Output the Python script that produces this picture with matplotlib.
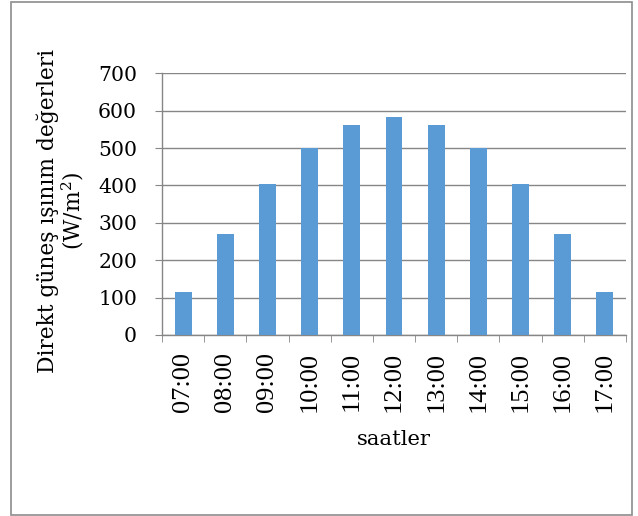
import matplotlib
matplotlib.use("Agg")
import matplotlib.pyplot as plt
from matplotlib.patches import Rectangle

# Hourly direct solar irradiance (W/m²)
hours = ["07:00", "08:00", "09:00", "10:00", "11:00", "12:00",
         "13:00", "14:00", "15:00", "16:00", "17:00"]
irradiance = [115, 270, 403, 501, 562, 582, 562, 501, 403, 270, 115]
y_ticks = [0, 100, 200, 300, 400, 500, 600, 700]

plt.rcParams["font.family"] = ["DejaVu Serif"]
plt.rcParams["mathtext.fontset"] = "dejavuserif"
FS = 14.7
FS_LABEL = 15.2
GRID = "#868686"

W, H = 638, 516
fig = plt.figure(figsize=(W / 100, H / 100), dpi=100)
fig.patch.set_facecolor("white")

# chart-area border
fig.patches.append(Rectangle((10.5 / W, 1.5 / H), (632 - 10.5) / W, (514 - 1.5) / H,
                             transform=fig.transFigure, fill=False,
                             edgecolor="#8c8c8c", linewidth=1.2))

ax = fig.add_axes([162 / W, 1 - 335 / H, (626 - 162) / W, (335 - 73.3) / H])

x = list(range(len(hours)))
ax.bar(x, irradiance, width=0.4, color="#5B9BD5", zorder=3)

ax.set_xlim(-0.5, len(hours) - 0.5)
ax.set_ylim(0, 700)
ax.set_yticks(y_ticks)
ax.yaxis.grid(True, color=GRID, linewidth=1.0, zorder=0)

for side in ("top", "right"):
    ax.spines[side].set_visible(False)
for side in ("left", "bottom"):
    ax.spines[side].set_color(GRID)
    ax.spines[side].set_linewidth(1.0)

ax.tick_params(axis="y", length=5, color=GRID, labelsize=FS, pad=13)
ax.set_xticks(x)
ax.set_xticklabels(hours, rotation=90, family="Liberation Serif", fontsize=19)
ax.set_xticks([i - 0.5 for i in range(len(hours) + 1)], minor=True)
ax.tick_params(axis="x", which="major", length=0, pad=12)
ax.tick_params(axis="x", which="minor", length=5, color=GRID)

ax.set_xlabel("saatler", fontsize=FS_LABEL, labelpad=13)

# vertical axis title, placed in figure pixels
fig.text(61 / W, 1 - 211 / H, "Direkt güneş ışınım değerleri\n(W/m$^2$)",
         rotation=90, ha="center", va="center", ma="center",
         fontsize=15.7, linespacing=1.0)

fig.savefig("out.png", dpi=100)
